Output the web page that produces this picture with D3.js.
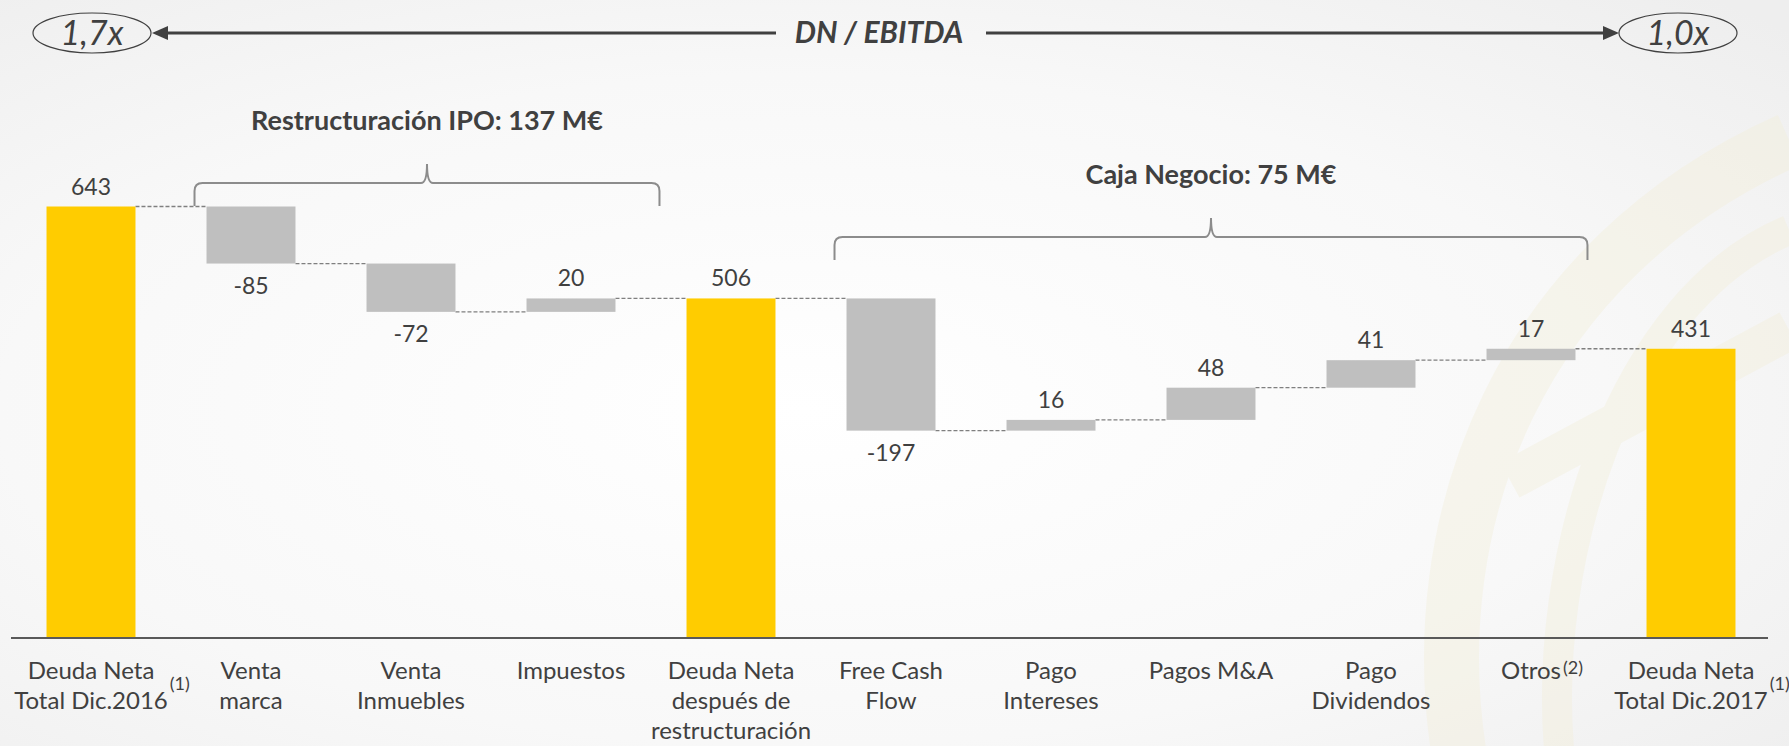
<!DOCTYPE html>
<html>
<head>
<meta charset="utf-8">
<script src="https://cdn.jsdelivr.net/npm/d3@7"></script>
<style>
  html, body { margin: 0; padding: 0; background: #f4f4f4; }
  #graf { width: 1789px; height: 746px; }
  text { font-family: Lato, "Open Sans", sans-serif; fill: #404040; }
</style>
</head>
<body>
<div id="graf"></div>
<script>
// I. Datos del gráfico (cascada de deuda neta, M€)
categorias = [
  ['Deuda Neta', 'Total Dic.2016'],
  ['Venta', 'marca'],
  ['Venta', 'Inmuebles'],
  ['Impuestos'],
  ['Deuda Neta', 'después de', 'restructuración'],
  ['Free Cash', 'Flow'],
  ['Pago', 'Intereses'],
  ['Pagos M&A'],
  ['Pago', 'Dividendos'],
  ['Otros'],
  ['Deuda Neta', 'Total Dic.2017']
]
notas   = ['(1)', '', '', '', '', '', '', '', '', '(2)', '(1)']
valores = [643, -85, -72, 20, 506, -197, 16, 48, 41, 17, 431]
totales = [true, false, false, false, true, false, false, false, false, false, true]

ratioInicio = '1,7x'
ratioFin    = '1,0x'
tituloRatio = 'DN / EBITDA'
llaves = [
  { texto: 'Restructuración IPO: 137 M€', desde: 1, hasta: 3 },
  { texto: 'Caja Negocio: 75 M€', desde: 5, hasta: 9 }
]

// II. Configuración
ancho_total = 1789
alto_total  = 746
base = 638

graf = d3.select('#graf')
svg = graf.append('svg')
          .attr('width', ancho_total)
          .attr('height', alto_total)

// Fondo con degradado suave
defs = svg.append('defs')
grad = defs.append('radialGradient')
           .attr('id', 'fondo')
           .attr('cx', '45%').attr('cy', '55%').attr('r', '75%')
grad.append('stop').attr('offset', '0%').attr('stop-color', '#ffffff')
grad.append('stop').attr('offset', '60%').attr('stop-color', '#f8f8f8')
grad.append('stop').attr('offset', '100%').attr('stop-color', '#eeeeee')

svg.append('rect')
   .attr('width', ancho_total)
   .attr('height', alto_total)
   .attr('fill', 'url(#fondo)')

// Logo tenue a la derecha
logo = svg.append('g').attr('fill', 'none').attr('stroke', '#f3efd9').attr('opacity', 0.4)
logo.append('path')
    .attr('d', 'M1460,760 C1420,520 1520,260 1789,140')
    .attr('stroke-width', 55)
logo.append('path')
    .attr('d', 'M1560,760 C1540,560 1620,300 1789,230')
    .attr('stroke-width', 30)
logo.append('path')
    .attr('d', 'M1510,480 L1789,330')
    .attr('stroke-width', 40)

// Escaladores
x = d3.scaleBand()
      .domain(d3.range(valores.length))
      .range([11, 1771])
      .paddingInner(0.444)
      .paddingOuter(0.222)

y = d3.scaleLinear()
      .domain([0, 643])
      .range([base, 206.5])

// Cálculo de inicio y fin de cada barra
acumulado = 0
datos = valores.map((v, i) => {
  let d
  if (totales[i]) {
    d = { i: i, ini: 0, fin: v, v: v, total: true }
    acumulado = v
  } else {
    d = { i: i, ini: acumulado, fin: acumulado + v, v: v, total: false }
    acumulado = acumulado + v
  }
  return d
})

// III. Dibujo
g = svg.append('g')

// conectores punteados
g.selectAll('.conector')
  .data(datos.slice(0, -1))
  .enter()
  .append('line')
    .attr('x1', d => x(d.i) + x.bandwidth())
    .attr('x2', d => x(d.i + 1))
    .attr('y1', d => y(d.fin))
    .attr('y2', d => y(d.fin))
    .attr('stroke', '#7f7f7f')
    .attr('stroke-width', 1.3)
    .attr('stroke-dasharray', '4,2')

// barras
g.selectAll('.barra')
  .data(datos)
  .enter()
  .append('rect')
    .attr('x', d => x(d.i))
    .attr('width', x.bandwidth())
    .attr('y', d => y(Math.max(d.ini, d.fin)))
    .attr('height', d => Math.abs(y(d.ini) - y(d.fin)))
    .attr('fill', d => d.total ? '#ffcc00' : '#bfbfbf')

// etiquetas de valor
g.selectAll('.valor')
  .data(datos)
  .enter()
  .append('text')
    .attr('x', d => x(d.i) + x.bandwidth() / 2)
    .attr('y', d => d.v < 0 ? y(Math.min(d.ini, d.fin)) + 30 : y(Math.max(d.ini, d.fin)) - 12)
    .attr('text-anchor', 'middle')
    .attr('font-size', '23px')
    .text(d => d.v)

// eje base
g.append('line')
  .attr('x1', 11).attr('x2', 1768)
  .attr('y1', base).attr('y2', base)
  .attr('stroke', '#595959')
  .attr('stroke-width', 2)

// etiquetas de categoría
categorias.forEach((lineas, i) => {
  cx = x(i) + x.bandwidth() / 2
  let ultima
  lineas.forEach((l, k) => {
    ultima = g.append('text')
              .attr('x', cx)
              .attr('y', base + 41 + k * 30)
              .attr('text-anchor', 'middle')
              .attr('font-size', '24px')
              .text(l)
  })
  if (notas[i]) {
    w = ultima.node().getComputedTextLength()
    ly = base + 41 + (lineas.length - 1) * 30
    g.append('text')
      .attr('x', cx + w / 2 + 2)
      .attr('y', ly - (lineas.length > 1 ? 19 : 5))
      .attr('font-size', '18px')
      .text(notas[i])
  }
})

// llaves de agrupación
llaveY = [183, 237]
llaves.forEach((ll, k) => {
  x1 = x(ll.desde) - 12
  x2 = x(ll.hasta) + x.bandwidth() + (k == 0 ? 44 : 12)
  xm = (x1 + x2) / 2
  yh = llaveY[k]
  yb = yh + 23
  r = 8
  path = `M${x1},${yb} L${x1},${yh + r} Q${x1},${yh} ${x1 + r},${yh} ` +
         `L${xm - 6},${yh} Q${xm},${yh} ${xm},${yh - 19} ` +
         `Q${xm},${yh} ${xm + 6},${yh} L${x2 - r},${yh} Q${x2},${yh} ${x2},${yh + r} L${x2},${yb}`
  g.append('path')
    .attr('d', path)
    .attr('fill', 'none')
    .attr('stroke', '#8c8c8c')
    .attr('stroke-width', 2)
  g.append('text')
    .attr('x', xm)
    .attr('y', yh - 53)
    .attr('text-anchor', 'middle')
    .attr('font-size', '27px')
    .attr('font-weight', 'bold')
    .text(ll.texto)
})

// Cabecera DN / EBITDA con flechas
yr = 33
cab = svg.append('g')
cab.append('text')
   .attr('x', 879).attr('y', yr + 10)
   .attr('text-anchor', 'middle')
   .attr('font-size', '30px')
   .attr('font-weight', 'bold')
   .attr('font-style', 'italic')
   .text(tituloRatio)

cab.append('line')
   .attr('x1', 165).attr('x2', 776)
   .attr('y1', yr).attr('y2', yr)
   .attr('stroke', '#404040').attr('stroke-width', 3)
cab.append('path')
   .attr('d', `M152,${yr} L168,${yr - 7} L168,${yr + 7} Z`)
   .attr('fill', '#404040')

cab.append('line')
   .attr('x1', 986).attr('x2', 1605)
   .attr('y1', yr).attr('y2', yr)
   .attr('stroke', '#404040').attr('stroke-width', 3)
cab.append('path')
   .attr('d', `M1619,${yr} L1603,${yr - 7} L1603,${yr + 7} Z`)
   .attr('fill', '#404040')

;[[92, ratioInicio], [1678, ratioFin]].forEach(([cx, t]) => {
  cab.append('ellipse')
     .attr('cx', cx).attr('cy', yr)
     .attr('rx', 59).attr('ry', 20)
     .attr('fill', 'none')
     .attr('stroke', '#404040')
     .attr('stroke-width', 1.2)
  cab.append('text')
     .attr('x', cx).attr('y', yr + 12)
     .attr('text-anchor', 'middle')
     .attr('font-size', '34px')
     .attr('font-weight', 400)
     .attr('font-style', 'italic')
     .text(t)
})
</script>
</body>
</html>
